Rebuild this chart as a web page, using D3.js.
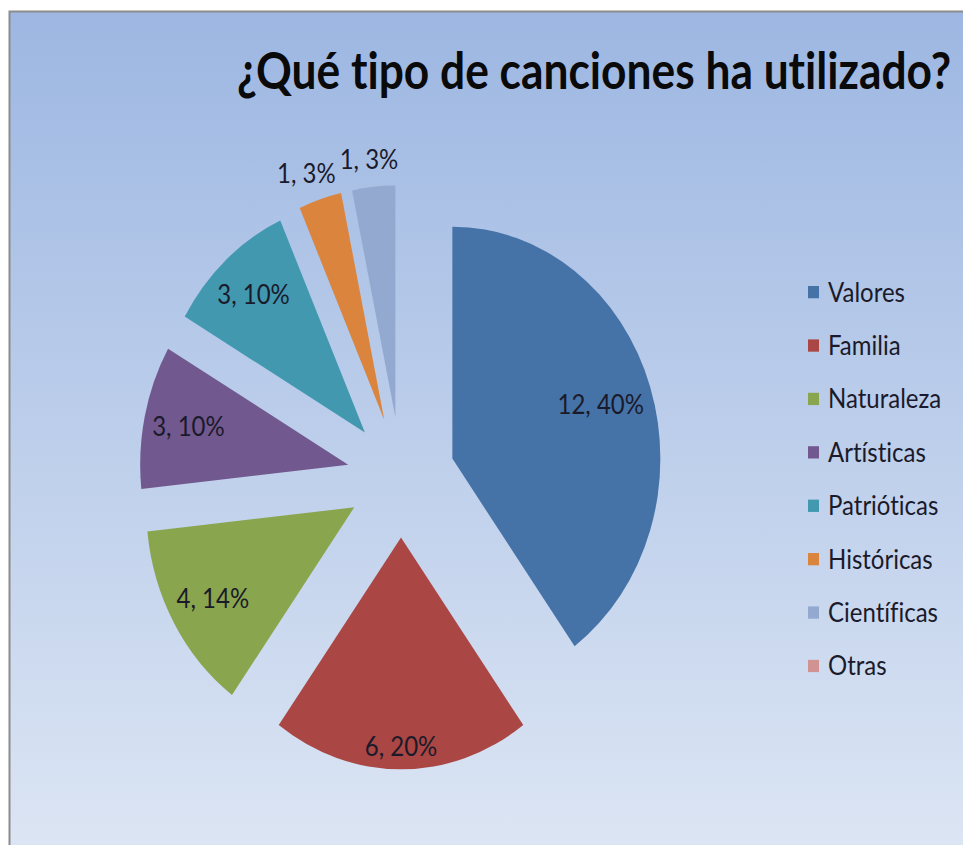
<!DOCTYPE html>
<html>
<head>
<meta charset="utf-8">
<script src="https://cdn.jsdelivr.net/npm/d3@7"></script>
<style>
  html, body { margin: 0; padding: 0; background: #fff; }
  svg { display: block; }
  text { font-variant-ligatures: none; font-feature-settings: "liga" 0, "clig" 0; }
</style>
</head>
<body>
<script>
var categories = ["Valores", "Familia", "Naturaleza", "Artísticas", "Patrióticas", "Históricas", "Científicas", "Otras"];
var values = [12, 6, 4, 3, 3, 1, 1, 0];
var colors = ["#4572A7", "#AA4643", "#89A54E", "#71588F", "#4198AF", "#DB843D", "#93A9CF", "#D19392"];
var title = "¿Qué tipo de canciones ha utilizado?";

var width = 963, height = 845;
var stretch = 1.115;              // the whole picture is a bit taller than wide
var cx = 401, cy = 428, radius = 208, explode = 54;
var labelFont = 24;

var svg = d3.select("body").append("svg").attr("width", width).attr("height", height);

var grad = svg.append("defs").append("linearGradient")
    .attr("id", "bg").attr("x1", 0).attr("y1", 0).attr("x2", 0).attr("y2", 1);
grad.append("stop").attr("offset", "0%").attr("stop-color", "#9DB7E2");
grad.append("stop").attr("offset", "100%").attr("stop-color", "#DDE6F4");

svg.append("rect")
    .attr("x", 9.5).attr("y", 11.5)
    .attr("width", width + 10).attr("height", height + 10)
    .attr("fill", "url(#bg)")
    .attr("stroke", "#8C8C8C")
    .attr("stroke-width", 2);

var chart = svg.append("g").attr("transform", "scale(1," + stretch + ")");

// title squeezed to the width it has in the picture
var titleText = chart.append("text")
    .attr("x", 0).attr("y", 0)
    .style("font-family", "Lato, 'Open Sans', sans-serif")
    .style("font-weight", "bold")
    .style("font-size", "46px")
    .style("fill", "#0a0a0a")
    .text(title);
var titleW = titleText.node().getComputedTextLength();
titleText.attr("transform", "translate(237,80) scale(" + (714 / titleW) + ",1)");

// percentages rounded so they add up to 100 (largest remainder)
var total = d3.sum(values);
var raw = values.map(function (v) { return v / total * 100; });
var pct = raw.map(Math.floor);
var left = 100 - d3.sum(pct);
d3.range(values.length)
    .sort(function (a, b) { return (raw[b] - pct[b]) - (raw[a] - pct[a]); })
    .slice(0, left)
    .forEach(function (i) { pct[i] += 1; });

var pie = d3.pie().sort(null).value(function (d) { return d; });
var arcs = pie(values);
var arc = d3.arc().innerRadius(0).outerRadius(radius);

var slices = chart.append("g")
    .attr("transform", "translate(" + cx + "," + cy + ")")
    .selectAll("g")
    .data(arcs.filter(function (d) { return d.value > 0; }))
    .enter().append("g")
    .attr("transform", function (d) {
        var mid = (d.startAngle + d.endAngle) / 2;
        return "translate(" + (explode * Math.sin(mid)) + "," + (-explode * Math.cos(mid)) + ")";
    });

slices.append("path")
    .attr("d", arc)
    .attr("fill", function (d) { return colors[d.index]; });

var labels = slices.append("text")
    .attr("text-anchor", "middle")
    .attr("dy", "0.35em")
    .style("font-family", "Lato, 'Open Sans', sans-serif")
    .style("font-size", labelFont + "px")
    .style("fill", "#1A1A2A")
    .text(function (d) { return d.value + ", " + pct[d.index] + "%"; });

function inside(d, x, y) {
    var dist = Math.sqrt(x * x + y * y);
    var a = Math.atan2(x, -y);
    if (a < 0) a += 2 * Math.PI;
    return dist <= radius && a >= d.startAngle && a <= d.endAngle;
}

// best fit: as far out as the box still sits inside the slice, else outside end
labels.each(function (d) {
    var w = this.getComputedTextLength();
    var mid = (d.startAngle + d.endAngle) / 2;
    var sx = Math.sin(mid), sy = -Math.cos(mid);
    var hw = w / 2 + 6, hh = labelFont * 0.4 + 6;
    var pos = null;
    for (var t = 0.9; t >= 0.4; t -= 0.005) {
        var px = sx * radius * t, py = sy * radius * t;
        if (inside(d, px - hw, py - hh) && inside(d, px + hw, py - hh) &&
            inside(d, px - hw, py + hh) && inside(d, px + hw, py + hh)) {
            pos = [px, py];
            break;
        }
    }
    if (!pos) {
        var rr = radius + 15;
        pos = [sx * rr + sx * w / 2, sy * rr + sy * labelFont * 0.4];
    }
    d3.select(this).attr("x", pos[0]).attr("y", pos[1]);
});

var legend = chart.append("g")
    .selectAll("g")
    .data(categories)
    .enter().append("g")
    .attr("transform", function (d, i) { return "translate(808," + (262 + i * 47.9) + ")"; });

legend.append("rect")
    .attr("x", 0).attr("y", -5.5)
    .attr("width", 11).attr("height", 11)
    .attr("fill", function (d, i) { return colors[i]; });

legend.append("text")
    .attr("x", 20)
    .attr("dy", "0.35em")
    .style("font-family", "Lato, 'Open Sans', sans-serif")
    .style("font-size", labelFont + "px")
    .style("fill", "#1A1A2A")
    .text(function (d) { return d; });
</script>
</body>
</html>
